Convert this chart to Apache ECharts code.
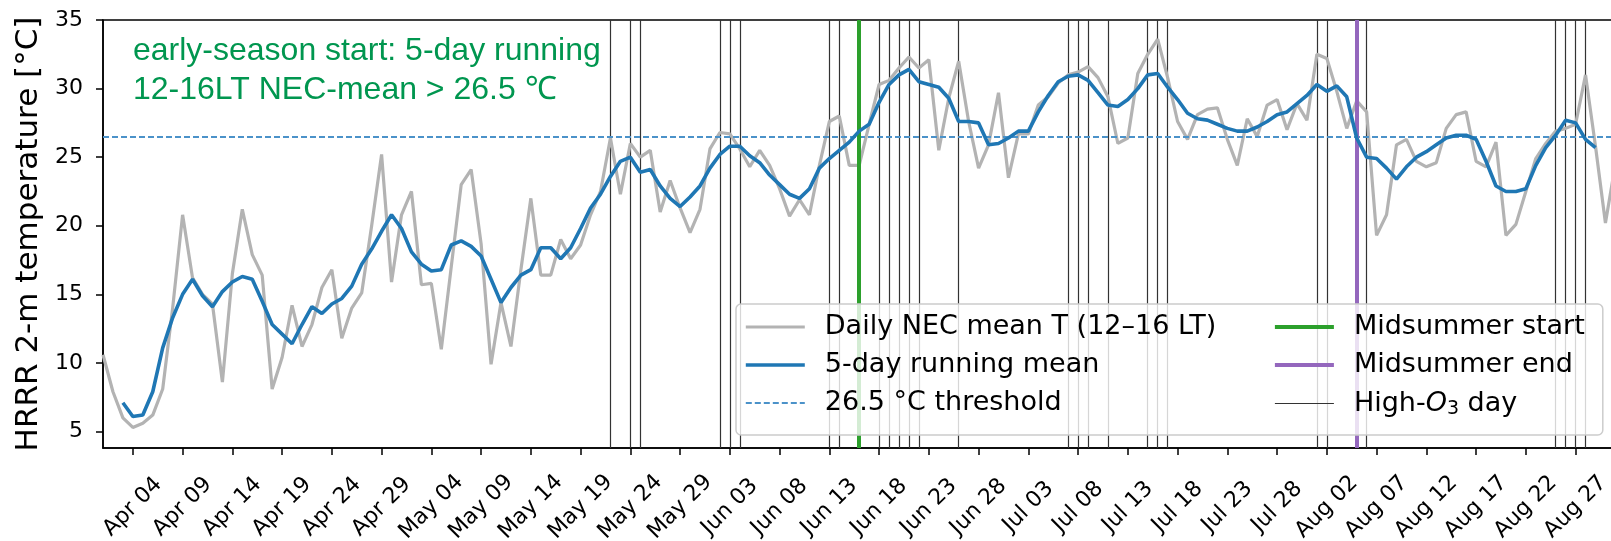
<!DOCTYPE html>
<html>
<head>
<meta charset="utf-8">
<script src="https://cdn.jsdelivr.net/npm/echarts@6/dist/echarts.min.js"></script>
<style>html,body{margin:0;padding:0;background:#fff}#c{width:1611px;height:541px}</style>
</head>
<body>
<div id="c"></div>
<script>
// ---------------- data ----------------
const monthStarts = {Apr: 0, May: 30, Jun: 61, Jul: 91, Aug: 122};
function dayIndex(label) { const p = label.split(' '); return monthStarts[p[0]] + parseInt(p[1], 10) - 1; }

const firstDay = 'Apr 01';
const dailyT = [
  10.6, 7.9, 6.0, 5.3, 5.6, 6.2, 8.1, 14.0, 20.8, 16.2,
  15.0, 14.3, 8.6, 16.5, 21.2, 17.9, 16.4, 8.1, 10.4, 14.2,
  11.2, 12.8, 15.5, 16.8, 11.8, 14.0, 15.1, 20.0, 25.2, 15.9,
  20.8, 22.5, 15.7, 15.8, 11.0, 17.0, 23.0, 24.1, 18.7, 9.9,
  14.4, 11.2, 16.8, 22.0, 16.4, 16.4, 19.0, 17.6, 18.6, 20.8,
  22.5, 26.4, 22.3, 26.0, 25.0, 25.5, 21.0, 23.3, 21.3, 19.5,
  21.2, 25.6, 26.8, 26.7, 25.6, 24.3, 25.5, 24.4, 22.7, 20.7,
  21.9, 20.8, 24.4, 27.6, 28.0, 24.4, 24.4, 27.4, 30.3, 30.6,
  31.5, 32.3, 31.5, 32.1, 25.5, 29.3, 32.0, 27.6, 24.2, 25.9,
  29.7, 23.5, 26.7, 26.7, 28.8, 29.4, 30.4, 31.0, 31.2, 31.6,
  30.8, 29.4, 26.0, 26.4, 31.1, 32.5, 33.6, 30.8, 27.6, 26.3,
  28.1, 28.5, 28.6, 26.3, 24.4, 27.8, 26.5, 28.8, 29.2, 27.0,
  28.9, 27.7, 32.5, 32.2, 29.8, 27.1, 29.1, 28.3, 19.3, 20.8,
  25.9, 26.3, 24.7, 24.3, 24.6, 27.1, 28.1, 28.3, 24.7, 24.3,
  26.1, 19.3, 20.1, 22.5, 24.9, 26.0, 26.9, 27.1, 27.4, 31.0,
  25.8, 20.2, 24.5
];

const runningMeanStart = 'Apr 03';
const runningMean = [
  7.1, 6.1, 6.2, 7.9, 11.1, 13.3, 15.0, 16.1,
  14.9, 14.1, 15.2, 15.9, 16.3, 16.1, 14.5, 12.8, 12.1, 11.4,
  12.8, 14.1, 13.6, 14.3, 14.7, 15.6, 17.2, 18.3, 19.6, 20.8,
  19.8, 18.1, 17.2, 16.7, 16.8, 18.6, 18.9, 18.5, 17.8, 16.1,
  14.4, 15.5, 16.4, 16.8, 18.4, 18.4, 17.6, 18.4, 19.8, 21.3,
  22.3, 23.6, 24.7, 25.0, 23.9, 24.1, 22.9, 22.0, 21.4, 22.1,
  22.9, 24.2, 25.2, 25.8, 25.8, 25.1, 24.6, 23.7, 23.0, 22.3,
  22.0, 22.7, 24.2, 24.9, 25.5, 26.1, 26.9, 27.4, 29.0, 30.3,
  31.0, 31.4, 30.5, 30.3, 30.1, 29.3, 27.6, 27.6, 27.5, 25.9,
  26.0, 26.4, 26.9, 26.9, 28.3, 29.5, 30.5, 30.9, 31.0, 30.6,
  29.7, 28.8, 28.7, 29.2, 30.0, 31.0, 31.1, 30.1, 29.2, 28.2,
  27.8, 27.7, 27.4, 27.1, 26.9, 26.9, 27.2, 27.6, 28.1, 28.3,
  28.9, 29.5, 30.3, 29.8, 30.2, 29.4, 26.4, 25.0, 24.9, 24.2,
  23.4, 24.3, 25.0, 25.4, 25.9, 26.4, 26.6, 26.6, 26.3, 24.7,
  22.9, 22.5, 22.5, 22.7, 24.4, 25.7, 26.6, 27.7, 27.5, 26.3,
  25.7
];

const threshold = 26.5;
const midsummerStart = 'Jun 16';
const midsummerEnd = 'Aug 05';
const highO3Days = [
  'May 22', 'May 24', 'May 25', 'Jun 02', 'Jun 03', 'Jun 04', 'Jun 13', 'Jun 14',
  'Jun 18', 'Jun 19', 'Jun 20', 'Jun 21', 'Jun 22', 'Jun 26', 'Jul 07', 'Jul 08',
  'Jul 09', 'Jul 11', 'Jul 15', 'Jul 16', 'Jul 17', 'Aug 01', 'Aug 02', 'Aug 06',
  'Aug 25', 'Aug 26', 'Aug 27', 'Aug 28'
];
const xTickLabels = [
  'Apr 04', 'Apr 09', 'Apr 14', 'Apr 19', 'Apr 24', 'Apr 29', 'May 04', 'May 09',
  'May 14', 'May 19', 'May 24', 'May 29', 'Jun 03', 'Jun 08', 'Jun 13', 'Jun 18',
  'Jun 23', 'Jun 28', 'Jul 03', 'Jul 08', 'Jul 13', 'Jul 18', 'Jul 23', 'Jul 28',
  'Aug 02', 'Aug 07', 'Aug 12', 'Aug 17', 'Aug 22', 'Aug 27'
];
const yTicks = [5, 10, 15, 20, 25, 30, 35];

const seriesNames = {
  daily: 'Daily NEC mean T (12\u201316 LT)',
  mean: '5-day running mean',
  thr: '26.5 \u00b0C threshold',
  start: 'Midsummer start',
  end: 'Midsummer end',
  o3: 'High-O3 day'
};
const annotation = 'early-season start: 5-day running\n12-16LT NEC-mean > 26.5 \u2103';

// ---------------- build ----------------
const FONT = 'DejaVu Sans';
const d0 = dayIndex(firstDay);
const dailyData = dailyT.map((v, i) => [d0 + i, v]);
const r0 = dayIndex(runningMeanStart);
const meanData = runningMean.map((v, i) => [r0 + i, v]);
const xTickValues = xTickLabels.map(dayIndex);
const labelByIndex = {};
xTickLabels.forEach(l => { labelByIndex[dayIndex(l)] = l; });

const chart = echarts.init(document.getElementById('c'), null, {renderer: 'canvas'});
const axisLineStyle = {color: '#000', width: 1.5};

const option = {
  animation: false,
  backgroundColor: '#ffffff',
  title: {
    text: annotation, left: 133, top: 32, padding: 0,
    textStyle: {fontFamily: 'Liberation Sans', fontSize: 32, fontWeight: 'normal', color: '#00964f', lineHeight: 39}
  },
  grid: {
    left: 103, right: -2, top: 20, bottom: 93,
    show: true, borderColor: '#000', borderWidth: 1.5, backgroundColor: 'transparent',
    containLabel: false, outerBoundsMode: 'none'
  },
  legend: {
    orient: 'vertical', left: 736, top: 304, height: 110, z: 10,
    itemGap: 8, itemWidth: 59, itemHeight: 14,
    padding: [8, 18, 16, 8],
    backgroundColor: 'rgba(255,255,255,0.8)', borderColor: '#cccccc', borderWidth: 1.5, borderRadius: 5,
    lineStyle: {width: 'inherit'},
    itemStyle: {opacity: 0, color: 'rgba(0,0,0,0)', borderWidth: 0},
    textStyle: {
      fontFamily: FONT, fontSize: 27, color: '#000', lineHeight: 30, padding: [0, 0, 0, 15],
      rich: {
        n: {fontFamily: FONT, fontSize: 27, lineHeight: 30, color: '#000'},
        o: {fontFamily: FONT, fontSize: 27, lineHeight: 30, fontStyle: 'italic', color: '#000'},
        s: {fontFamily: FONT, fontSize: 19, lineHeight: 18, padding: [12, 0, 0, 0], color: '#000'}
      }
    },
    formatter: function (name) {
      return name === seriesNames.o3 ? '{n|High-}{o|O}{s|3}{n| day}' : name;
    },
    data: [
      {name: seriesNames.daily, textStyle: {padding: [0, 49, 0, 15]}},
      {name: seriesNames.mean, textStyle: {padding: [0, 49, 0, 15]}},
      {name: seriesNames.thr, textStyle: {padding: [0, 49, 0, 15]}},
      {name: seriesNames.start},
      {name: seriesNames.end},
      {name: seriesNames.o3}
    ]
  },
  xAxis: {
    type: 'value', min: 0, max: 151.76,
    splitLine: {show: false},
    axisLine: {show: true, lineStyle: axisLineStyle},
    axisTick: {show: true, customValues: xTickValues, length: 7, lineStyle: axisLineStyle},
    axisLabel: {
      customValues: xTickValues, formatter: v => labelByIndex[v] || '',
      rotate: 45, align: 'center', verticalAlign: 'middle', margin: 59,
      fontFamily: FONT, fontSize: 22, color: '#000'
    }
  },
  yAxis: {
    type: 'value', min: 3.8, max: 35,
    name: 'HRRR 2-m temperature [\u00b0C]', nameLocation: 'middle', nameGap: 55,
    nameTextStyle: {fontFamily: FONT, fontSize: 31, color: '#000'},
    splitLine: {show: false},
    axisLine: {show: true, lineStyle: axisLineStyle},
    axisTick: {show: true, customValues: yTicks, length: 7, lineStyle: axisLineStyle},
    axisLabel: {customValues: yTicks, margin: 20, fontFamily: FONT, fontSize: 22, color: '#000'}
  },
  series: [
    {
      name: seriesNames.daily, type: 'line', data: dailyData, symbol: 'none', z: 2,
      lineStyle: {color: '#b3b3b3', width: 3.2}, itemStyle: {color: '#b3b3b3'}
    },
    {
      name: seriesNames.mean, type: 'line', data: meanData, symbol: 'none', z: 6,
      lineStyle: {color: '#1f77b4', width: 3.6}, itemStyle: {color: '#1f77b4'}
    },
    {
      name: seriesNames.thr, type: 'line', data: [], symbol: 'none',
      lineStyle: {color: '#4b92c9', width: 1.8, type: [6, 3]}, itemStyle: {color: '#4b92c9'},
      markLine: {
        z: 3, silent: true, symbol: 'none', label: {show: false}, emphasis: {disabled: true},
        lineStyle: {color: '#4b92c9', width: 1.8, type: [6, 3]},
        data: [{yAxis: threshold}]
      }
    },
    {
      name: seriesNames.start, type: 'line', data: [], symbol: 'none',
      lineStyle: {color: '#2ca02c', width: 4}, itemStyle: {color: '#2ca02c'},
      markLine: {
        z: 4, silent: true, symbol: 'none', label: {show: false}, emphasis: {disabled: true},
        lineStyle: {color: '#2ca02c', width: 4, type: 'solid'},
        data: [{xAxis: dayIndex(midsummerStart)}]
      }
    },
    {
      name: seriesNames.end, type: 'line', data: [], symbol: 'none',
      lineStyle: {color: '#9467bd', width: 4}, itemStyle: {color: '#9467bd'},
      markLine: {
        z: 4, silent: true, symbol: 'none', label: {show: false}, emphasis: {disabled: true},
        lineStyle: {color: '#9467bd', width: 4, type: 'solid'},
        data: [{xAxis: dayIndex(midsummerEnd)}]
      }
    },
    {
      name: seriesNames.o3, type: 'line', data: [], symbol: 'none',
      lineStyle: {color: '#333333', width: 1.2}, itemStyle: {color: '#333333'},
      markLine: {
        z: 1, silent: true, symbol: 'none', label: {show: false}, emphasis: {disabled: true},
        lineStyle: {color: '#333333', width: 1.2, type: 'solid'},
        data: highO3Days.map(d => ({xAxis: dayIndex(d)}))
      }
    }
  ]
};
chart.setOption(option);
</script>
</body>
</html>
